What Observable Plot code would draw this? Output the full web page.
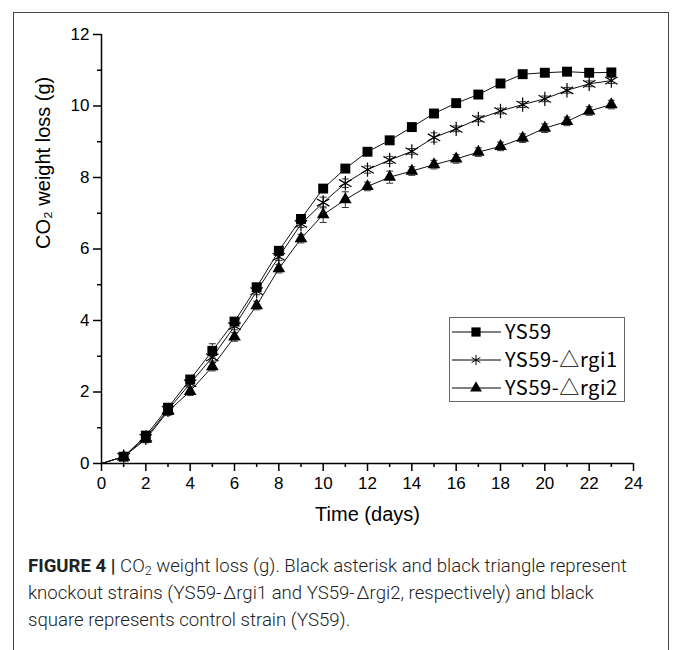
<!DOCTYPE html>
<html><head><meta charset="utf-8">
<script src="https://cdn.jsdelivr.net/npm/d3@7"></script>
<script src="https://cdn.jsdelivr.net/npm/@observablehq/plot@0.6"></script>
<style>
body{margin:0;background:#fff;}
#wrap{position:relative;width:673px;height:650px;overflow:hidden;}
#frame{position:absolute;left:13px;top:12px;width:656px;height:700px;border:1px solid #444;box-sizing:border-box;}
#chart{position:absolute;left:0;top:0;}
#caption{position:absolute;left:28px;top:553px;font-family:Roboto,"Liberation Sans",sans-serif;font-weight:300;font-size:18.6px;line-height:27px;color:#222;white-space:nowrap;}
#caption b{font-weight:700;}
#caption sub{font-size:12.5px;vertical-align:-3px;line-height:0;}
</style></head><body>
<div id="wrap"><div id="frame"></div><div id="chart"></div>
<div id="caption"><b>FIGURE 4 |</b> CO<sub>2</sub> weight loss (g). Black asterisk and black triangle represent<br>knockout strains (YS59-&#8202;Δrgi1 and YS59-&#8202;Δrgi2, respectively) and black<br>square represents control strain (YS59).</div>
</div>
<script>
const days = [0,1,2,3,4,5,6,7,8,9,10,11,12,13,14,15,16,17,18,19,20,21,22,23];
const seriesNames = ["YS59", "YS59-△rgi1", "YS59-△rgi2"];
const ys59 = [0,0.19,0.78,1.56,2.35,3.15,3.97,4.93,5.95,6.84,7.69,8.25,8.72,9.04,9.41,9.79,10.08,10.32,10.63,10.89,10.93,10.96,10.93,10.94];
const rgi1 = [0,0.19,0.72,1.50,2.24,2.97,3.84,4.82,5.78,6.70,7.30,7.84,8.22,8.49,8.73,9.12,9.36,9.64,9.86,10.04,10.20,10.44,10.62,10.71];
const rgi2 = [0,0.19,0.68,1.46,2.02,2.71,3.54,4.42,5.45,6.29,6.96,7.38,7.75,8.01,8.18,8.36,8.52,8.71,8.87,9.10,9.38,9.57,9.86,10.04];
const sdYs59 = [0,0.05,0.06,0.06,0.08,0.20,0.08,0.07,0.06,0.06,0.06,0.05,0.05,0.05,0.05,0.05,0.05,0.05,0.05,0.05,0.05,0.05,0.05,0.05];
const sdRgi1 = [0,0.05,0.06,0.08,0.10,0.10,0.10,0.10,0.10,0.10,0.15,0.12,0.10,0.10,0.08,0.13,0.08,0.08,0.08,0.08,0.08,0.08,0.08,0.08];
const sdRgi2 = [0,0.05,0.10,0.12,0.12,0.12,0.12,0.12,0.12,0.12,0.22,0.22,0.12,0.17,0.12,0.12,0.12,0.12,0.12,0.12,0.12,0.12,0.12,0.12];
const xTicks = [0,2,4,6,8,10,12,14,16,18,20,22,24];
const xMinor = [1,3,5,7,9,11,13,15,17,19,21,23];
const yTicks = [0,2,4,6,8,10,12];
const yMinor = [1,3,5,7,9,11];
const xLabel = "Time (days)";
const yLabel = "CO₂ weight loss (g)";

const allVals = [ys59, rgi1, rgi2];
const allSd = [sdYs59, sdRgi1, sdRgi2];
const rows = [];
allVals.forEach((vals, k) => vals.forEach((v, i) => rows.push({series: seriesNames[k], day: days[i], value: v, sd: allSd[k][i]})));
const pts = rows.filter(d => d.day > 0);
const bySeries = name => pts.filter(d => d.series === name);

const capSymbol = {draw(ctx, size) { ctx.moveTo(-3.5, 0); ctx.lineTo(3.5, 0); }};

function legend() {
  const g = d3.create("svg:g").attr("text-anchor", "start");
  g.append("rect").attr("x", 449.5).attr("y", 317.5).attr("width", 175).attr("height", 84)
    .attr("fill", "white").attr("stroke", "#666").attr("stroke-width", 1);
  const ys = [332, 360, 388];
  const syms = [
    {type: d3.symbolSquare, size: 85, fill: "#000", stroke: "none"},
    {type: d3.symbolAsterisk, size: 70, fill: "none", stroke: "#000"},
    {type: d3.symbolTriangle, size: 60, fill: "#000", stroke: "none"}
  ];
  seriesNames.forEach((name, i) => {
    g.append("line").attr("x1", 452).attr("x2", 501).attr("y1", ys[i]).attr("y2", ys[i]).attr("stroke", "#000").attr("stroke-width", 1);
    g.append("path").attr("d", d3.symbol(syms[i].type, syms[i].size)()).attr("transform", `translate(476,${ys[i]})`)
      .attr("fill", syms[i].fill).attr("stroke", syms[i].stroke).attr("stroke-width", 1);
    g.append("text").attr("x", 505).attr("y", ys[i]).attr("dy", "0.36em").attr("text-anchor", "start")
      .attr("font-family", "'Noto Sans CJK SC', sans-serif").attr("font-size", 20).attr("letter-spacing", "0.6px")
      .attr("fill", "#000").text(name);
  });
  return g.node();
}

const chart = Plot.plot({
  width: 673,
  height: 545,
  marginLeft: 101,
  marginRight: 40,
  marginTop: 34,
  marginBottom: 82,
  style: {fontFamily: "'Liberation Sans', Arial, sans-serif", fontSize: "17px", color: "#000", background: "transparent"},
  x: {domain: [0, 24]},
  y: {domain: [0, 12]},
  marks: [
    Plot.ruleX(pts, {x: "day", y1: d => d.value - d.sd, y2: d => d.value + d.sd, stroke: "#333", strokeWidth: 1}),
    Plot.dot(pts, {x: "day", y: d => d.value - d.sd, symbol: capSymbol, fill: "none", stroke: "#333", strokeWidth: 1}),
    Plot.dot(pts, {x: "day", y: d => d.value + d.sd, symbol: capSymbol, fill: "none", stroke: "#333", strokeWidth: 1}),
    Plot.line(rows, {x: "day", y: "value", z: "series", stroke: "#111", strokeWidth: 1}),
    Plot.dot(bySeries(seriesNames[0]), {x: "day", y: "value", symbol: "square", r: 5.6, fill: "#000", stroke: "none"}),
    Plot.dot(bySeries(seriesNames[1]), {x: "day", y: "value", symbol: "asterisk", r: 6.8, fill: "none", stroke: "#000", strokeWidth: 1.2}),
    Plot.dot(bySeries(seriesNames[2]), {x: "day", y: "value", symbol: "triangle", r: 4.7, fill: "#000", stroke: "none"}),
    Plot.axisX({ticks: xTicks, tickSize: 8, tickPadding: 5, label: null, strokeWidth: 1.5, fontSize: 17}),
    Plot.axisX({ticks: xMinor, tickSize: 4, text: null, label: null, strokeWidth: 1.5}),
    Plot.axisY({ticks: yTicks, tickSize: 8, tickPadding: 4, label: null, strokeWidth: 1.5, fontSize: 17}),
    Plot.axisY({ticks: yMinor, tickSize: 4, text: null, label: null, strokeWidth: 1.5}),
    Plot.ruleY([0], {stroke: "#000", strokeWidth: 1.5}),
    Plot.ruleX([0], {stroke: "#000", strokeWidth: 1.5}),
    Plot.text([xLabel], {frameAnchor: "bottom", dy: 57, fontSize: 20, fill: "#000", text: d => d}),
    Plot.text([yLabel], {frameAnchor: "left", dx: -58, rotate: -90, fontSize: 20, fill: "#000", text: d => d}),
    legend
  ]
});
document.getElementById("chart").appendChild(chart);
</script></body></html>
